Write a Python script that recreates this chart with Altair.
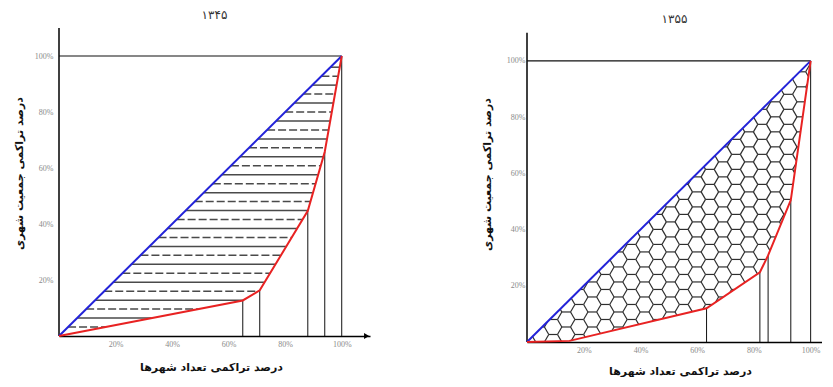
import altair as alt
import numpy as np
import pandas as pd

# ---- data ----
titles = ["۱۳۴۵", "۱۳۵۵"]
x_title = "درصد تراکمی تعداد شهرها"
y_title = "درصد تراکمی جمعیت شهری"
tick_values = [20, 40, 60, 80, 100]

left_x = [0, 65, 71, 88, 94, 100]
left_y = [0, 12.7, 16.3, 44.7, 65.8, 100]
left_drops = [65, 71, 88, 94, 100]

right_x = [0, 15, 63.3, 82.1, 85, 93, 100]
right_y = [0, 0.4, 12, 24.8, 30.8, 50.5, 100]
right_drops = [63.3, 82.1, 85, 93, 100]

equality_x = [0, 100]
equality_y = [0, 100]

BLUE = "#2323d8"
RED = "#e82222"
HATCH = "#4a4a4a"


def hatch_lines(cx, cy, step=3.2):
    levels = np.arange(step, 100 - 0.5, step)
    rows = []
    for k, lv in enumerate(levels, start=1):
        xr = float(np.interp(lv, cy, cx))
        rows.append({"xa": float(lv), "xb": xr, "yy": float(lv),
                     "kind": "solid" if k % 2 == 0 else "dash"})
    return pd.DataFrame(rows)


def clip_segment(a, b, poly):
    t0, t1 = 0.0, 1.0
    d = (b[0] - a[0], b[1] - a[1])
    n = len(poly)
    for i in range(n):
        p, q = poly[i], poly[(i + 1) % n]
        e = (q[0] - p[0], q[1] - p[1])
        f0 = e[0] * (a[1] - p[1]) - e[1] * (a[0] - p[0])
        fd = e[0] * d[1] - e[1] * d[0]
        if abs(fd) < 1e-12:
            if f0 < 0:
                return None
            continue
        t = -f0 / fd
        if fd > 0:
            t0 = max(t0, t)
        else:
            t1 = min(t1, t)
        if t0 >= t1:
            return None
    return ((a[0] + t0 * d[0], a[1] + t0 * d[1]), (a[0] + t1 * d[0], a[1] + t1 * d[1]))


def hex_edges(cx, cy, R=3.07, h=2.67):
    poly = list(zip(cx, cy))  # along curve to (100,100), closes along diagonal
    s60 = np.sin(np.pi / 3)
    seen = set()
    rows = []
    for i in range(-1, 40):
        for j in range(-1, 23):
            ccx = i * 1.5 * R
            ccy = 2 * h * j + (h if i % 2 else 0)
            verts = [(ccx + R * np.cos(k * np.pi / 3), ccy + h * np.sin(k * np.pi / 3) / s60)
                     for k in range(6)]
            for k in range(6):
                a, b = verts[k], verts[(k + 1) % 6]
                key = tuple(sorted([(round(a[0], 3), round(a[1], 3)), (round(b[0], 3), round(b[1], 3))]))
                if key in seen:
                    continue
                seen.add(key)
                c = clip_segment(a, b, poly)
                if c is None:
                    continue
                (x1, y1), (x2, y2) = c
                if abs(x2 - x1) + abs(y2 - y1) < 1e-6:
                    continue
                rows.append({"xa": x1, "ya": y1, "xb": x2, "yb": y2})
    return pd.DataFrame(rows)


def panel(cx, cy, drops, xmax, ymax, width, height, title, fill, ylabpad, ytitlepad,
          ytitle_y, xtitle_x, xtitlepad, title_offset, arrow):
    X = lambda f: alt.X(f, scale=alt.Scale(domain=[0, xmax], nice=False, zero=False),
                        axis=alt.Axis(values=tick_values, labelExpr="datum.value + '%'", ticks=False,
                                      grid=False, domainColor="black", domainWidth=1.5,
                                      labelFont="Liberation Serif", labelFontSize=8, labelColor="#8a8a8a",
                                      labelPadding=4, title=x_title, titleFont="DejaVu Sans",
                                      titleFontSize=11, titleFontWeight="bold", titleColor="#111",
                                      titlePadding=xtitlepad, titleX=xtitle_x))
    Y = lambda f: alt.Y(f, scale=alt.Scale(domain=[0, ymax], nice=False, zero=False),
                        axis=alt.Axis(values=tick_values, labelExpr="datum.value + '%'", ticks=False,
                                      grid=False, domain=False,
                                      labelFont="Liberation Serif", labelFontSize=8, labelColor="#8a8a8a",
                                      labelPadding=ylabpad, title=y_title, titleFont="DejaVu Sans",
                                      titleFontSize=11, titleFontWeight="bold", titleColor="#111",
                                      titlePadding=ytitlepad, titleY=ytitle_y))
    layers = []
    if fill == "hatch":
        hd = hatch_lines(cx, cy)
        solid = alt.Chart(hd[hd.kind == "solid"]).mark_rule(color=HATCH, strokeWidth=1.5).encode(
            x=X("xa:Q"), x2="xb:Q", y=Y("yy:Q"))
        dash = alt.Chart(hd[hd.kind == "dash"]).mark_rule(color=HATCH, strokeWidth=1.5,
                                                          strokeDash=[8, 3]).encode(
            x=X("xa:Q"), x2="xb:Q", y=Y("yy:Q"))
        layers += [solid, dash]
    else:
        he = hex_edges(cx, cy)
        layers.append(alt.Chart(he).mark_rule(color="#2e2e2e", strokeWidth=1.2).encode(
            x=X("xa:Q"), x2="xb:Q", y=Y("ya:Q"), y2="yb:Q"))

    # y axis line (0..110)
    yaxis_df = pd.DataFrame({"x": [0], "y0": [0], "y1": [110]})
    layers.append(alt.Chart(yaxis_df).mark_rule(color="black", strokeWidth=1.5).encode(
        x=X("x:Q"), y=Y("y0:Q"), y2="y1:Q"))
    drop_df = pd.DataFrame({"x": drops, "y": [float(np.interp(d, cx, cy)) for d in drops]})
    layers.append(alt.Chart(drop_df).mark_rule(color="#111", strokeWidth=1).encode(
        x=X("x:Q"), y=Y("y:Q"), y2=alt.datum(0)))
    frame_df = pd.DataFrame({"x0": [0], "x1": [100], "y": [100]})
    layers.append(alt.Chart(frame_df).mark_rule(color="#111", strokeWidth=1.2).encode(
        x=X("x0:Q"), x2="x1:Q", y=Y("y:Q")))
    eq = pd.DataFrame({"x": equality_x, "y": equality_y})
    layers.append(alt.Chart(eq).mark_line(color=BLUE, strokeWidth=2).encode(x=X("x:Q"), y=Y("y:Q")))
    cur = pd.DataFrame({"x": cx, "y": cy})
    layers.append(alt.Chart(cur).mark_line(color=RED, strokeWidth=2).encode(x=X("x:Q"), y=Y("y:Q")))
    if arrow:
        ar = pd.DataFrame({"x": [xmax - 1.2], "y": [0]})
        layers.append(alt.Chart(ar).mark_point(shape="triangle-right", filled=True, size=35,
                                               color="black", opacity=1).encode(x=X("x:Q"), y=Y("y:Q")))
    return alt.layer(*layers).properties(
        width=width, height=height,
        title=alt.TitleParams(title, font="DejaVu Sans", fontSize=12, fontWeight="normal",
                              color="#333", anchor="middle", offset=title_offset))


left = panel(left_x, left_y, left_drops, 110, 110, 311, 308, titles[0], "hatch",
             6, 10, 145, 152, 13.5, 5, True)
right = panel(right_x, right_y, right_drops, 104, 111.7, 295, 314, titles[1], "hex",
              2, 14, 146, 153, 11.5, 2, False)

chart = alt.hconcat(left, right).properties(
    padding={"left": 5, "top": 1, "right": 0, "bottom": 0}
).configure_view(stroke=None).configure_concat(spacing=111)

chart.save("out.html", embed_options={"renderer": "svg", "actions": False})
